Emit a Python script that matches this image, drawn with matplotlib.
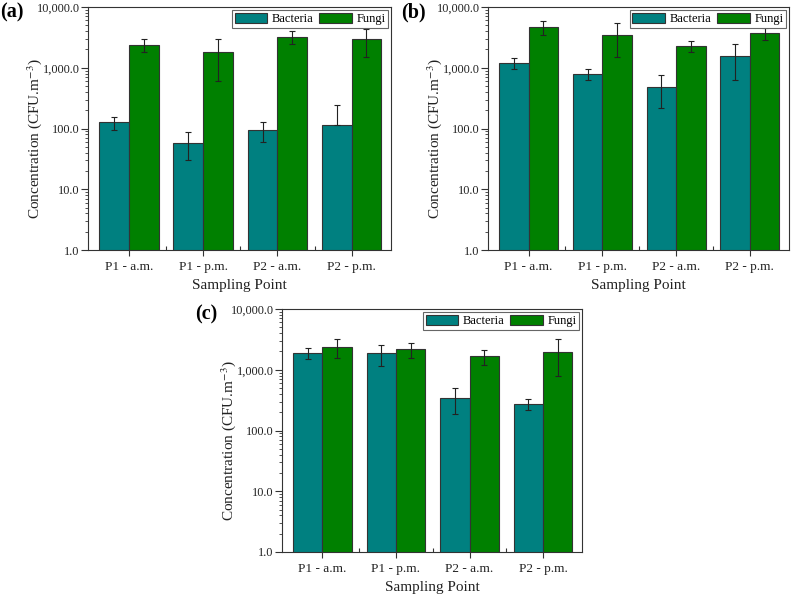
import numpy as np
import matplotlib
matplotlib.use("Agg")
import matplotlib.pyplot as plt
from matplotlib.ticker import LogLocator, FuncFormatter, NullFormatter, FixedLocator

plt.rcParams['font.family'] = ['Liberation Serif', 'DejaVu Serif']
plt.rcParams['mathtext.fontset'] = 'stix'

points = ['P1 - a.m.', 'P1 - p.m.', 'P2 - a.m.', 'P2 - p.m.']

# (a)
bac_a = [126, 58, 93, 116]
bac_a_err = [30, 28, 33, 125]
fun_a = [2370, 1800, 3210, 2940]
fun_a_err = [570, 1200, 750, 1450]

# (b)
bac_b = [1190, 795, 490, 1555]
bac_b_err = [230, 160, 270, 920]
fun_b = [4740, 3500, 2300, 3680]
fun_b_err = [1250, 2000, 500, 780]

# (c)
bac_c = [1880, 1855, 344, 272]
bac_c_err = [390, 700, 160, 55]
fun_c = [2390, 2190, 1655, 1975]
fun_c_err = [800, 600, 440, 1200]

teal = '#008080'
green = '#008000'


def lower_err(v, e):
    v = np.array(v, float)
    e = np.array(e, float)
    return np.where(e < v, e, 0)


def panel(ax, bac, bac_err, fun, fun_err, letter):
    x = np.arange(len(points))
    w = 0.4
    ax.bar(x - w / 2, bac, w, color=teal, edgecolor='#333333', linewidth=0.8,
           label='Bacteria', zorder=2)
    ax.bar(x + w / 2, fun, w, color=green, edgecolor='#333333', linewidth=0.8,
           label='Fungi', zorder=2)
    ax.errorbar(x - w / 2, bac, yerr=[lower_err(bac, bac_err), bac_err], fmt='none',
                ecolor='#222222', elinewidth=0.8, capsize=2.5, capthick=0.8, zorder=3)
    ax.errorbar(x + w / 2, fun, yerr=[lower_err(fun, fun_err), fun_err], fmt='none',
                ecolor='#222222', elinewidth=0.8, capsize=2.5, capthick=0.8, zorder=3)
    ax.set_yscale('log')
    ax.set_ylim(1, 10000)
    ax.set_xlim(-0.55, 3.53)
    ax.yaxis.set_major_locator(LogLocator(base=10, numticks=10))
    ax.yaxis.set_major_formatter(FuncFormatter(lambda v, p: '{:,.1f}'.format(v)))
    ax.yaxis.set_minor_locator(LogLocator(base=10, subs=np.arange(2, 10), numticks=10))
    ax.yaxis.set_minor_formatter(NullFormatter())
    ax.set_xticks(x)
    ax.set_xticklabels(points)
    ax.xaxis.set_minor_locator(FixedLocator([0.5, 1.5, 2.5]))
    ax.tick_params(axis='y', which='major', direction='out', length=5, width=0.8,
                   labelsize=8.8, colors='#333333', labelcolor='#222222', pad=1)
    ax.tick_params(axis='y', which='minor', direction='out', length=2.5, width=0.6,
                   colors='#333333')
    ax.tick_params(axis='x', which='major', direction='out', length=4, width=0.8,
                   labelsize=9.5, colors='#333333', labelcolor='#222222', pad=4)
    ax.tick_params(axis='x', which='minor', direction='in', length=3, width=0.8,
                   colors='#333333')
    for s in ax.spines.values():
        s.set_linewidth(0.8)
        s.set_color('#333333')
    ax.set_xlabel('Sampling Point', fontsize=11, color='#222222')
    ax.set_ylabel('Concentration (CFU.m$^{-3}$)', fontsize=11, color='#222222')
    ax.xaxis.set_label_coords(0.5, -0.12)
    ax.yaxis.set_label_coords(-0.145, 0.46)
    leg = ax.legend(loc='upper right', ncol=2, fontsize=9, fancybox=False,
                    edgecolor='#666666', framealpha=1, handlelength=2.6,
                    handleheight=0.95, columnspacing=0.5, handletextpad=0.35,
                    borderpad=0.2, borderaxespad=0.25)
    leg.get_frame().set_linewidth(0.8)
    leg.set_zorder(5)
    ax.text(-0.29, 1.02, letter, transform=ax.transAxes, fontsize=14.5,
            fontweight='bold', va='top', ha='left')


fig = plt.figure(figsize=(7.92, 5.95), dpi=100)
ax_a = fig.add_axes([88 / 792, 1 - 250 / 595, 303 / 792, 243 / 595])
ax_b = fig.add_axes([488 / 792, 1 - 250 / 595, 301 / 792, 243 / 595])
ax_c = fig.add_axes([282 / 792, 1 - 552 / 595, 300 / 792, 243 / 595])

panel(ax_a, bac_a, bac_a_err, fun_a, fun_a_err, '(a)')
panel(ax_b, bac_b, bac_b_err, fun_b, fun_b_err, '(b)')
panel(ax_c, bac_c, bac_c_err, fun_c, fun_c_err, '(c)')

fig.savefig('out.png', dpi=100)
